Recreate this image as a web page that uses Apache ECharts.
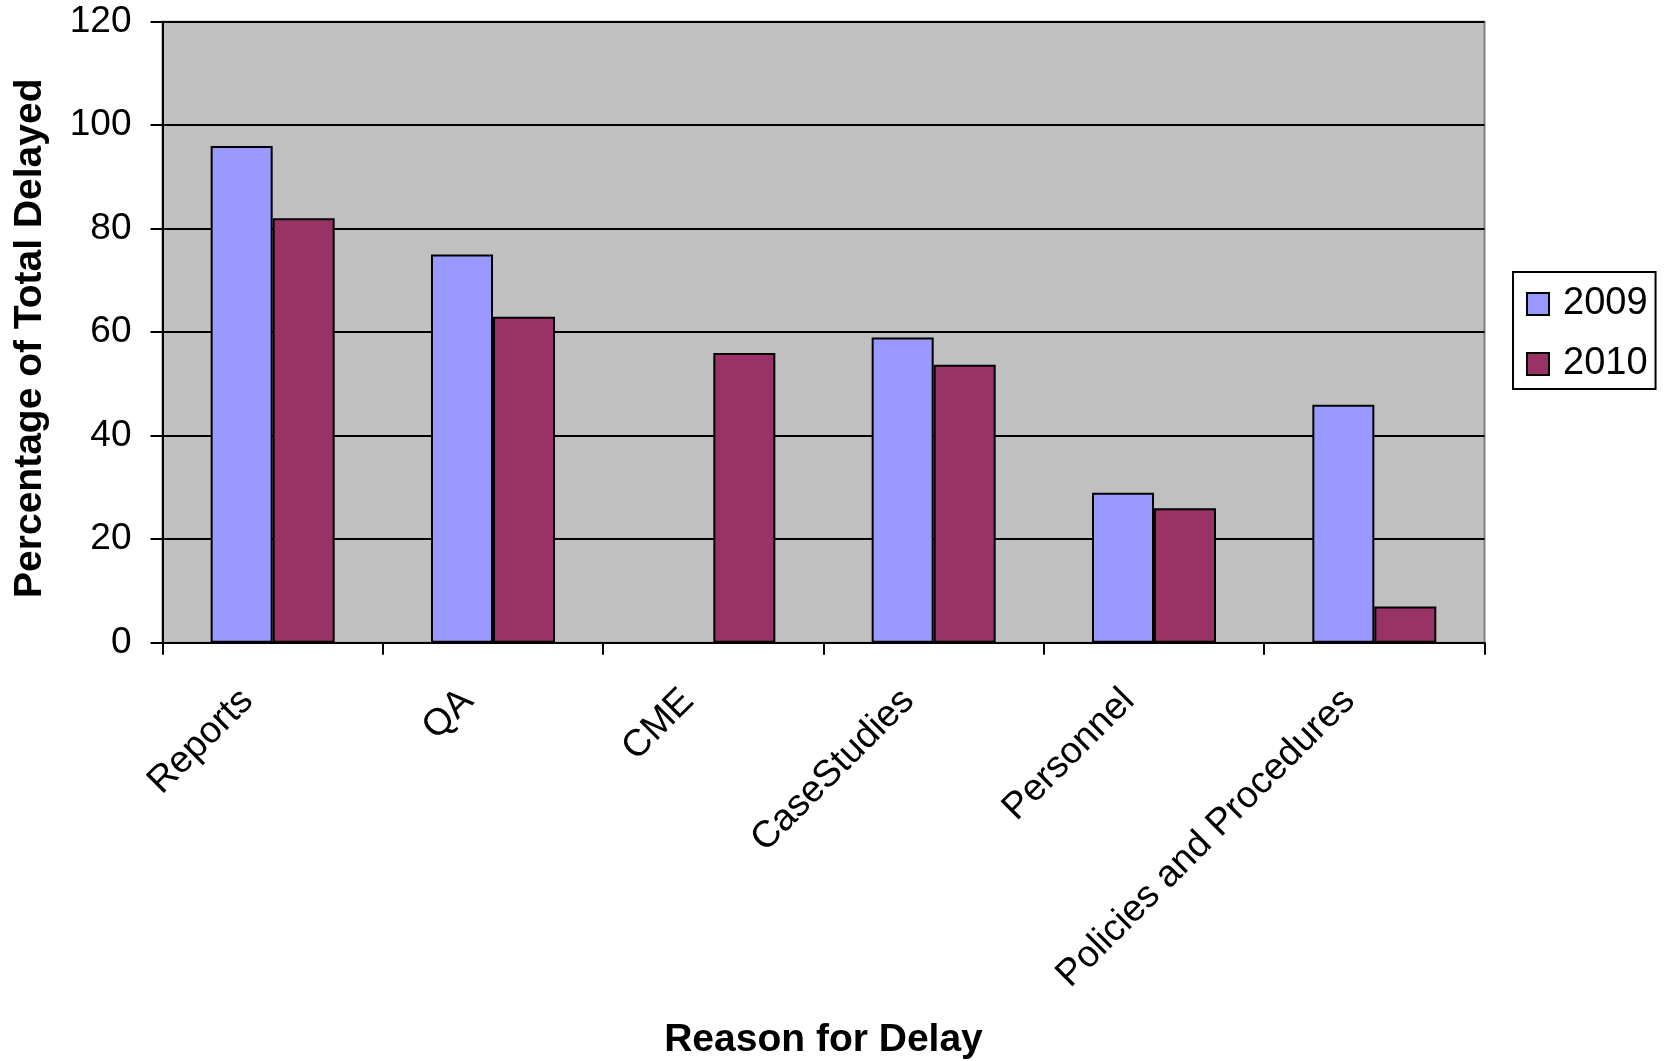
<!DOCTYPE html>
<html><head><meta charset="utf-8">
<script src="https://cdn.jsdelivr.net/npm/echarts@6/dist/echarts.min.js"></script>
<style>html,body{margin:0;padding:0;background:#fff}#c{width:1665px;height:1061px}</style>
</head><body><div id="c"></div>
<script>
const categories = ['Reports', 'QA', 'CME', 'CaseStudies', 'Personnel', 'Policies and Procedures'];
const values2009 = [96, 75, null, 59, 29, 46];
const values2010 = [82, 63, 56, 53.7, 26, 7];
const yTicks = [0, 20, 40, 60, 80, 100, 120];

const font = 'Liberation Sans, Arial, sans-serif';
const chart = echarts.init(document.getElementById('c'));
chart.setOption({
  animation: false,
  backgroundColor: '#fff',
  grid: {left: 162.5, right: 180.5, top: 21.7, bottom: 418.3, show: true,
         containLabel: false, outerBoundsMode: 'none',
         backgroundColor: '#c0c0c0', borderColor: '#808080', borderWidth: 2},
  legend: {
    orient: 'vertical', left: 1513, top: 272, padding: [13, 8, 6, 13],
    borderColor: '#000', borderWidth: 2, itemWidth: 22, itemHeight: 22, itemGap: 22,
    icon: 'rect',
    itemStyle: {borderColor: '#000', borderWidth: 2},
    textStyle: {fontFamily: font, fontSize: 38, color: '#000', padding: [0, 0, 0, 9]},
    data: ['2009', '2010']
  },
  xAxis: {
    type: 'category', data: categories,
    name: 'Reason for Delay', nameLocation: 'middle', nameGap: 378,
    nameTextStyle: {fontFamily: font, fontSize: 39, fontWeight: 'bold', color: '#000'},
    axisLine: {lineStyle: {color: '#000', width: 2}},
    axisTick: {show: true, length: 12, lineStyle: {color: '#000', width: 2}},
    axisLabel: {rotate: 45, fontFamily: font, fontSize: 37.5, color: '#000', margin: 27,
      padding: [0, 36, 0, 0], interval: 0},
    splitLine: {show: false}
  },
  yAxis: {
    type: 'value', min: 0, max: 120, interval: 20,
    name: 'Percentage of Total Delayed', nameLocation: 'middle', nameGap: 113,
    nameTextStyle: {fontFamily: font, fontSize: 39, fontWeight: 'bold', color: '#000',
      padding: [0, 12, 0, 0]},
    axisLine: {show: true, lineStyle: {color: '#000', width: 2}},
    axisTick: {show: true, length: 12, lineStyle: {color: '#000', width: 2}},
    axisLabel: {fontFamily: font, fontSize: 37, color: '#000', margin: 31,
      formatter: v => yTicks.includes(v) ? String(v) : ''},
    splitLine: {show: true, lineStyle: {color: '#000', width: 2}}
  },
  series: [
    {name: '2009', type: 'bar', data: values2009, barWidth: 62, barGap: '0%',
     itemStyle: {color: '#9999ff', borderColor: '#000', borderWidth: 2}},
    {name: '2010', type: 'bar', data: values2010, barWidth: 62,
     itemStyle: {color: '#993366', borderColor: '#000', borderWidth: 2}}
  ]
});
</script></body></html>
